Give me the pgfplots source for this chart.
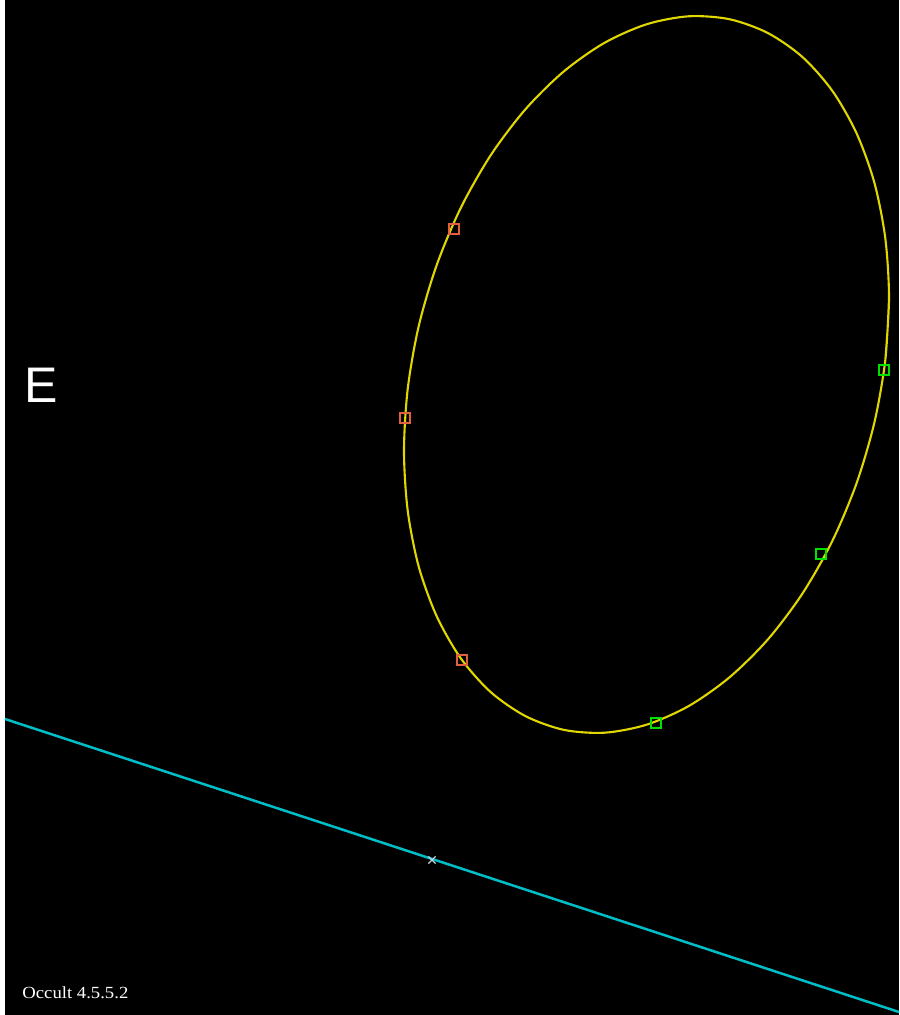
\documentclass[border=0pt]{standalone}
\usepackage{pgfplots}
\pgfplotsset{compat=1.18}
\usepackage{graphicx}
\usepackage{fontspec}
\newfontfamily\arialfont{Liberation Sans}
\newfontfamily\timesfont{Liberation Serif}
\definecolor{bgblack}{RGB}{0,0,0}
\definecolor{ellyellow}{RGB}{225,215,0}
\definecolor{pathcyan}{RGB}{0,190,200}
\definecolor{morange}{RGB}{225,95,60}
\definecolor{mgreen}{RGB}{0,225,0}
\definecolor{xgray}{RGB}{200,210,225}
\begin{document}
\begin{tikzpicture}
\begin{axis}[
  scale only axis,
  width=449.5pt, height=507.5pt,
  xmin=0, xmax=899, ymin=0, ymax=1015,
  y dir=reverse,
  hide axis,
  clip=true,
]
% background
\addplot[fill=white, draw=none] coordinates {(0,0) (5,0) (5,1015) (0,1015)} -- cycle;
\addplot[fill=bgblack, draw=none] coordinates {(5,0) (899,0) (899,1015) (5,1015)} -- cycle;
% ellipse
\addplot[color=ellyellow, line width=1.05pt, smooth] coordinates {
(889.0,298.0) (885.3,360.0) (874.4,422.4) (856.5,483.4) (832.3,541.0)
(802.4,593.6) (767.8,639.5) (729.4,677.4) (688.6,706.1) (646.5,724.7)
(604.4,732.7) (563.6,729.8) (525.25,716.0) (490.6,692.0) (460.7,658.2)
(436.5,615.8) (418.6,566.2) (407.7,510.6) (404.0,451.0) (407.7,389.0)
(418.6,326.6) (436.5,265.6) (460.7,208.0) (490.6,155.4) (525.25,109.5)
(563.6,71.6) (604.4,42.9) (646.5,24.3) (688.6,16.3) (729.4,19.2)
(767.8,33.0) (802.4,57.0) (832.3,90.8) (856.5,133.2) (874.4,182.8)
(885.3,238.4) (889.0,298.0) (885.3,360.0)
};
% path line
\addplot[color=pathcyan, line width=1.25pt] coordinates {(5,719) (899,1012)};
% centre cross
\addplot[only marks, mark=x, mark size=2.5pt, color=xgray, mark options={line width=0.6pt}] coordinates {(432,860)};
% orange markers
\addplot[only marks, mark=square, mark size=2.4pt, color=morange, mark options={line width=0.8pt}] coordinates {(454,229) (405,418) (462,660)};
% green markers
\addplot[only marks, mark=square, mark size=2.4pt, color=mgreen, mark options={line width=0.8pt}] coordinates {(884,370) (821,554) (656,723)};
% labels
\node[anchor=base west, inner sep=0pt, text=white, font=\arialfont\fontsize{25pt}{27pt}\selectfont] at (axis cs:24,402) {E};
\node[anchor=base west, inner sep=0pt, text=white, font=\timesfont\fontsize{8.5pt}{9pt}\selectfont] at (axis cs:22,998) {\scalebox{1.1}[1]{Occult 4.5.5.2}};
\end{axis}
\end{tikzpicture}
\end{document}
